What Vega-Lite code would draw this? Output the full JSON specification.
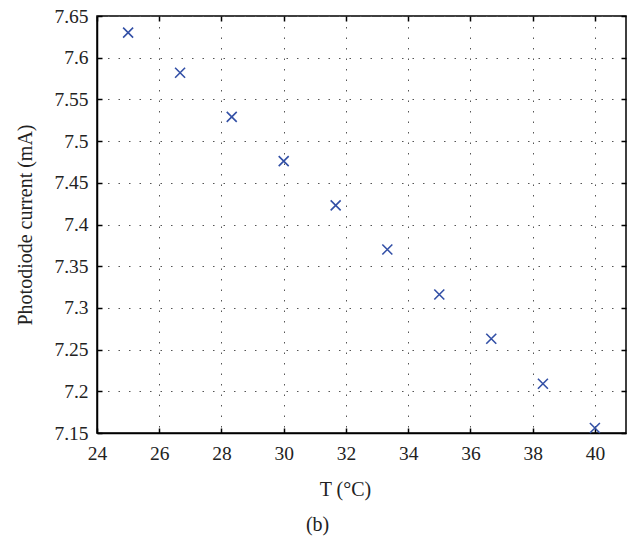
{
  "$schema": "https://vega.github.io/schema/vega-lite/v6.json",
  "width": 529,
  "height": 417,
  "autosize": {"type": "none"},
  "padding": {"left": 97, "top": 16, "right": 15, "bottom": 106},
  "background": "white",
  "config": {
    "font": "Liberation Serif",
    "view": {"stroke": "black", "strokeWidth": 1.5},
    "axis": {
      "labelFont": "Liberation Serif",
      "titleFont": "Liberation Serif",
      "labelFontSize": 19.5,
      "titleFontSize": 20,
      "labelColor": "#222",
      "titleColor": "#222",
      "titleFontWeight": "normal",
      "domainColor": "black",
      "domainWidth": 1.5,
      "tickColor": "black",
      "tickWidth": 1.5,
      "gridColor": "#555",
      "gridDash": [1.5, 9],
      "gridWidth": 1
    }
  },
  "title": {
    "text": "(b)",
    "orient": "bottom",
    "font": "Liberation Serif",
    "fontSize": 20,
    "fontWeight": "normal",
    "color": "#222",
    "anchor": "start",
    "dx": 290,
    "offset": 16
  },
  "data": {
    "values": [
      {"T": 25.0, "I": 7.630},
      {"T": 26.67, "I": 7.582},
      {"T": 28.33, "I": 7.529},
      {"T": 30.0, "I": 7.476},
      {"T": 31.67, "I": 7.423},
      {"T": 33.33, "I": 7.370},
      {"T": 35.0, "I": 7.316},
      {"T": 36.67, "I": 7.263},
      {"T": 38.33, "I": 7.209},
      {"T": 40.0, "I": 7.156}
    ]
  },
  "resolve": {"axis": {"x": "independent", "y": "independent"}},
  "layer": [
    {
      "mark": {"type": "point", "shape": "M-1,-1L1,1M1,-1L-1,1", "filled": false, "size": 100, "strokeWidth": 1.6, "color": "#3350a6", "opacity": 1, "clip": false},
      "encoding": {
        "x": {
          "field": "T", "type": "quantitative",
          "scale": {"domain": [24, 41], "nice": false, "zero": false},
          "axis": {"orient": "bottom", "values": [24, 26, 28, 30, 32, 34, 36, 38, 40], "tickSize": -5, "labelPadding": 16, "grid": true, "title": "T (°C)", "titleX": 248, "titleY": 46, "labelFlush": false}
        },
        "y": {
          "field": "I", "type": "quantitative",
          "scale": {"domain": [7.15, 7.65], "nice": false, "zero": false},
          "axis": {"orient": "left", "values": [7.15, 7.2, 7.25, 7.3, 7.35, 7.4, 7.45, 7.5, 7.55, 7.6, 7.65], "format": "~g", "tickSize": -5, "labelPadding": 14, "grid": true, "title": "Photodiode current (mA)", "titlePadding": 18, "labelFlush": false}
        }
      }
    },
    {
      "mark": {"type": "point", "opacity": 0},
      "encoding": {
        "x": {
          "field": "T", "type": "quantitative",
          "axis": {"orient": "top", "values": [24, 26, 28, 30, 32, 34, 36, 38, 40], "tickSize": -5, "labels": false, "grid": false, "title": null, "domain": false}
        },
        "y": {
          "field": "I", "type": "quantitative",
          "axis": {"orient": "right", "values": [7.15, 7.2, 7.25, 7.3, 7.35, 7.4, 7.45, 7.5, 7.55, 7.6, 7.65], "tickSize": -5, "labels": false, "grid": false, "title": null, "domain": false}
        }
      }
    }
  ]
}
